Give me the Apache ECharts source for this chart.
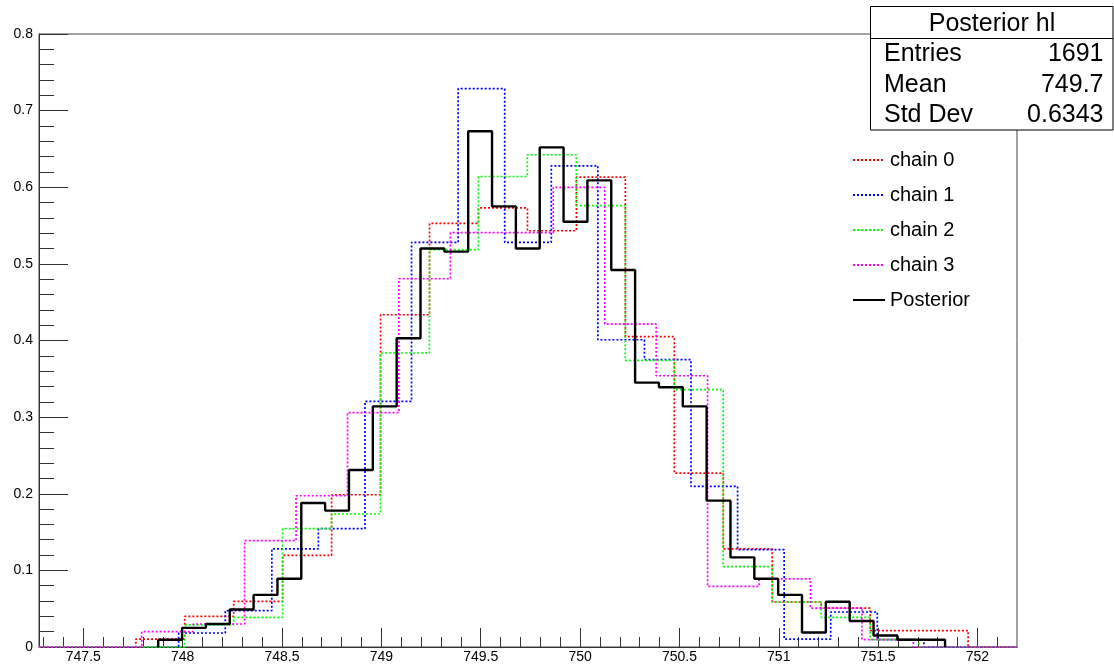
<!DOCTYPE html>
<html>
<head>
<meta charset="utf-8">
<script src="https://cdn.jsdelivr.net/npm/echarts@6/dist/echarts.min.js"></script>
<style>
html,body{margin:0;padding:0;background:#fff;}
#chart{width:1114px;height:667px;}
</style>
</head>
<body>
<div id="chart"></div>
<script>
// ---- data ----
const xMin = 747.277, xMax = 752.199;
const xMajorTicks = [747.5, 748, 748.5, 749, 749.5, 750, 750.5, 751, 751.5, 752];
const seriesNames = ['chain 0', 'chain 1', 'chain 2', 'chain 3', 'Posterior'];
const seriesColors = ['#ff0000', '#0000ff', '#00ff00', '#ff00ff', '#000000'];

// bin start / width for each histogram
const chain0Start = 747.764, chain0Width = 0.2464;
const chain0 = [0.0104,0.040,0.0595,0.1195,0.1987,0.4336,0.5528,0.573,0.5432,0.6133,0.405,0.227,0.128,0.0587,0.0507,0.0215,0.0215];
const chain1Start = 747.980, chain1Width = 0.2344;
const chain1 = [0.0183,0.0474,0.128,0.1544,0.3205,0.528,0.7286,0.528,0.628,0.401,0.375,0.2096,0.127,0.0104,0.0457,0.0095];
const chain2Start = 748.010, chain2Width = 0.2464;
const chain2 = [0.029,0.0387,0.1544,0.1736,0.3837,0.5185,0.614,0.6424,0.576,0.374,0.336,0.105,0.0587,0.0387,0.0095];
const chain3Start = 747.794, chain3Width = 0.2589;
const chain3 = [0.020,0.030,0.1387,0.1974,0.306,0.4806,0.5407,0.5407,0.5998,0.4215,0.354,0.079,0.089,0.0507,0.0095];
const posteriorStart = 747.277, posteriorWidth = 0.12;
const posterior = [0,0,0,0,0,0.0095,0.025,0.030,0.049,0.068,0.089,0.188,0.178,0.231,0.314,0.403,0.520,0.516,0.673,0.575,0.520,0.652,0.555,0.609,0.492,0.345,0.339,0.314,0.191,0.117,0.089,0.068,0.019,0.059,0.034,0.015,0.0095,0.0095,0,0,0];

const statTitle = 'Posterior hl';
const statLabels = ['Entries', 'Mean', 'Std Dev'];
const statValues = ['1691', '749.7', '0.6343'];

// ---- build step outlines from bins ----
function steps(start, width, vals, extend) {
  let first = 0, last = vals.length - 1;
  if (!extend) {
    while (first < last && vals[first] === 0) first++;
    while (last > first && vals[last] === 0) last--;
  }
  const pts = [];
  if (extend) pts.push([xMin, 0]);
  pts.push([start + first * width, 0]);
  for (let i = first; i <= last; i++) {
    pts.push([start + i * width, vals[i]]);
    pts.push([start + (i + 1) * width, vals[i]]);
  }
  pts.push([start + (last + 1) * width, 0]);
  if (extend) pts.push([xMax, 0]);
  return pts;
}

const minorTicks = [];
for (let k = Math.ceil(xMin * 10); k <= Math.floor(xMax * 10); k++) minorTicks.push(k / 10);

const FONT = 'Liberation Sans, Arial, Helvetica, sans-serif';
const AX = '#333';

const hists = [
  steps(chain0Start, chain0Width, chain0, true),
  steps(chain1Start, chain1Width, chain1, true),
  steps(chain2Start, chain2Width, chain2, true),
  steps(chain3Start, chain3Width, chain3, true),
  steps(posteriorStart, posteriorWidth, posterior, false)
];

const series = hists.map((d, i) => ({
  name: seriesNames[i],
  type: 'line',
  data: d,
  symbol: 'none',
  clip: false,
  animation: false,
  z: i === 4 ? 5 : 3,
  lineStyle: i === 4
    ? { color: seriesColors[i], width: 2.4, type: 'solid' }
    : { color: seriesColors[i], width: 1.7, type: [2, 2] },
  itemStyle: { color: seriesColors[i] }
}));

const chart = echarts.init(document.getElementById('chart'), null, { renderer: 'canvas' });
chart.setOption({
  backgroundColor: '#fff',
  animation: false,
  grid: {
    left: 39, right: 97, top: 34, bottom: 20,
    show: true, borderColor: '#444', borderWidth: 1,
    outerBoundsMode: 'none'
  },
  xAxis: [
    {
      type: 'value', min: xMin, max: xMax, position: 'bottom',
      axisLine: { show: true, onZero: false, lineStyle: { color: AX, width: 1 } },
      axisTick: { show: true, inside: true, length: 19, customValues: xMajorTicks, lineStyle: { color: AX } },
      axisLabel: { show: true, customValues: xMajorTicks, fontSize: 14, color: '#000', fontFamily: FONT, margin: 3 },
      splitLine: { show: false }
    },
    {
      type: 'value', min: xMin, max: xMax, position: 'bottom',
      axisLine: { show: false, onZero: false },
      axisTick: { show: true, inside: true, length: 10, customValues: minorTicks, lineStyle: { color: AX } },
      axisLabel: { show: false },
      splitLine: { show: false }
    }
  ],
  yAxis: {
    type: 'value', min: 0, max: 0.8, interval: 0.1,
    axisLine: { show: true, onZero: false, lineStyle: { color: AX, width: 1 } },
    axisTick: { show: true, inside: true, length: 29, lineStyle: { color: AX } },
    minorTick: { show: true, splitNumber: 5, length: 15, lineStyle: { color: AX } },
    axisLabel: { fontSize: 14, color: '#000', fontFamily: FONT, margin: 6 },
    splitLine: { show: false },
    minorSplitLine: { show: false }
  },
  legend: {
    orient: 'vertical', left: 852, top: 150, padding: 0,
    itemWidth: 32, itemHeight: 14, itemGap: 15,
    itemStyle: { opacity: 0 },
    textStyle: { fontSize: 20, color: '#000', fontFamily: FONT },
    data: seriesNames,
    selectedMode: false
  },
  graphic: [
    { type: 'rect', z: 100, shape: { x: 870.5, y: 6.5, width: 242.5, height: 123.5 },
      style: { fill: '#fff', stroke: '#000', lineWidth: 1 } },
    { type: 'line', z: 101, shape: { x1: 870.5, y1: 38.5, x2: 1113, y2: 38.5 },
      style: { stroke: '#000', lineWidth: 1 } },
    { type: 'text', z: 102, x: 992, y: 24,
      style: { text: statTitle, font: '25px ' + FONT, fill: '#000', textAlign: 'center', textVerticalAlign: 'middle' } }
  ].concat(statLabels.map((t, i) => ({
    type: 'text', z: 102, x: 884, y: [54, 85.5, 115][i],
    style: { text: t, font: '25px ' + FONT, fill: '#000', textAlign: 'left', textVerticalAlign: 'middle' }
  }))).concat(statValues.map((t, i) => ({
    type: 'text', z: 102, x: 1103.5, y: [54, 85.5, 115][i],
    style: { text: t, font: '25px ' + FONT, fill: '#000', textAlign: 'right', textVerticalAlign: 'middle' }
  }))),
  series: series
});
</script>
</body>
</html>
